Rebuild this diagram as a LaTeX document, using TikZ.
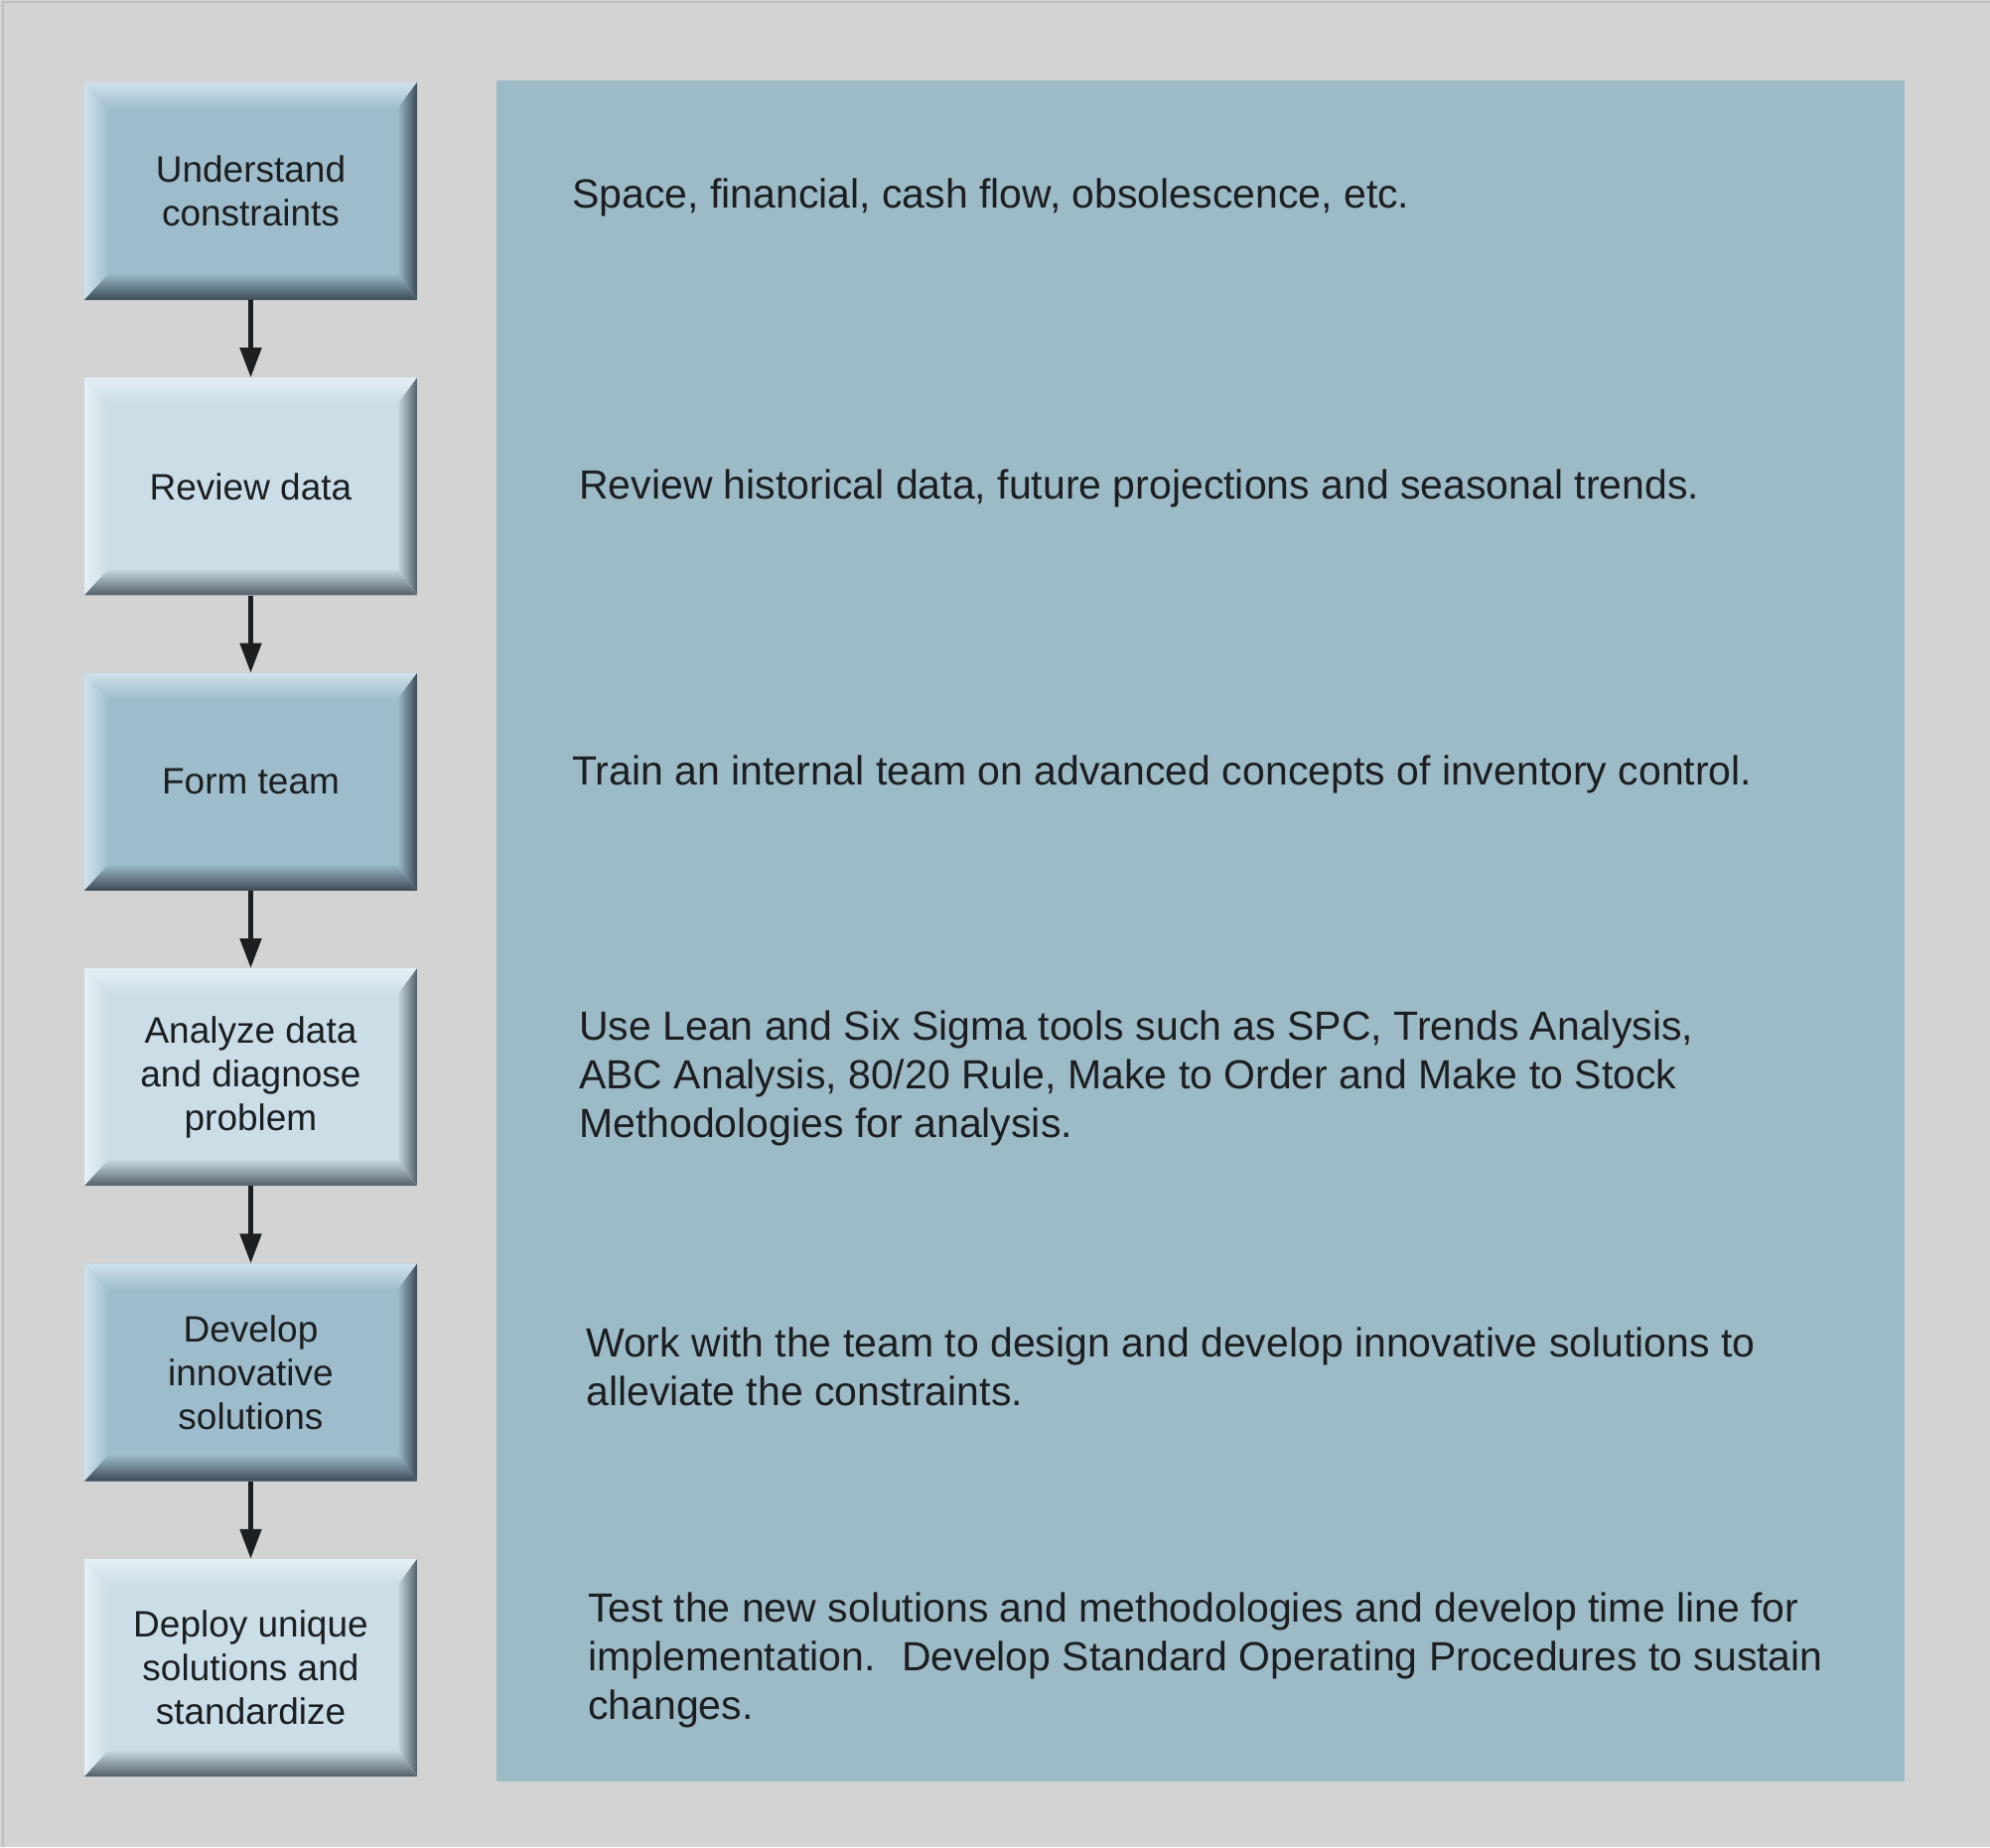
\documentclass[tikz,border=0pt]{standalone}
\usepackage{fontspec}
\setmainfont{Liberation Sans}
\usetikzlibrary{positioning,arrows.meta}
\definecolor{bggray}{HTML}{D3D3D3}
\definecolor{bgline}{HTML}{BEBEBE}
\definecolor{panelblue}{HTML}{9DBAC7}
\definecolor{darkface}{HTML}{9EBCCB}
\definecolor{darkhi}{HTML}{CFE2EC}
\definecolor{darklo}{HTML}{3B4A55}
\definecolor{lightface}{HTML}{CBDDE6}
\definecolor{lighthi}{HTML}{E6F0F5}
\definecolor{lightlo}{HTML}{525F68}
\definecolor{inkcol}{HTML}{1B1F22}
\tikzset{
  bevel/.style n args={3}{
    fill=#1,
    path picture={
      \coordinate (bnw) at (path picture bounding box.north west);
      \coordinate (bne) at (path picture bounding box.north east);
      \coordinate (bsw) at (path picture bounding box.south west);
      \coordinate (bse) at (path picture bounding box.south east);
      % light edges
      \fill[left color=#2, right color=#1] (bnw) -- ([shift={(25pt,-27pt)}]bnw) -- ([shift={(25pt,27pt)}]bsw) -- (bsw) -- cycle;
      \fill[top color=#2, bottom color=#1] (bnw) -- (bne) -- ([shift={(-20pt,-27pt)}]bne) -- ([shift={(25pt,-27pt)}]bnw) -- cycle;
      % dark edges
      \fill[left color=#1, middle color=#3!70!#1, right color=#3] (bne) -- (bse) -- ([shift={(-20pt,27pt)}]bse) -- ([shift={(-20pt,-27pt)}]bne) -- cycle;
      \fill[top color=#1, middle color=#3!80!#1, bottom color=#3] (bsw) -- (bse) -- ([shift={(-20pt,27pt)}]bse) -- ([shift={(25pt,27pt)}]bsw) -- cycle;
    }
  }
}
\tikzstyle{block} = [rectangle, bevel={darkface}{darkhi}{darklo},
    minimum width=335pt, minimum height=219pt, inner sep=0pt,
    align=center, text=inkcol, font=\fontsize{37}{44}\selectfont]
\tikzstyle{wblock} = [block, bevel={lightface}{lighthi}{lightlo}]
\tikzstyle{note} = [anchor=west, inner sep=0pt, align=left, text=inkcol,
    font=\fontsize{41}{49}\selectfont]
\tikzstyle{flow} = [draw=inkcol, line width=5pt, -{Triangle[length=30pt,width=21pt]}]

\begin{document}
\begin{tikzpicture}[x=1pt,y=-1pt,node distance=78pt]
\useasboundingbox (0,0) rectangle (2004,1860);
\fill[bggray] (0,0) rectangle (2004,1860);
\draw[bgline,line width=2pt] (2.5,1860) -- (2.5,2.5) -- (2004,2.5);

\node (panel) [rectangle, fill=panelblue, minimum width=1418pt, minimum height=1713pt] at (1209,937.5) {};

% steps
\node (understand) [block] at (252.5,192.5) {Understand\\constraints};
\node (review) [wblock, below=of understand] {Review data};
\node (form) [block, below=of review] {Form team};
\node (analyze) [wblock, below=of form] {Analyze data\\and diagnose\\problem};
\node (develop) [block, below=of analyze] {Develop\\innovative\\solutions};
\node (deploy) [wblock, below=of develop] {Deploy unique\\solutions and\\standardize};

\draw[flow] (understand) -- (review);
\draw[flow] (review) -- (form);
\draw[flow] (form) -- (analyze);
\draw[flow] (analyze) -- (develop);
\draw[flow] (develop) -- (deploy);

% descriptions
\node (understand_txt) [note] at (576,199) {Space, financial, cash flow, obsolescence, etc.};
\node (review_txt) [note] at (583,492) {Review historical data, future projections and seasonal trends.};
\node (form_txt) [note] at (576,780) {Train an internal team on advanced concepts of inventory control.};
\node (analyze_txt) [note] at (583,1086) {Use Lean and Six Sigma tools such as SPC, Trends Analysis,\\ABC Analysis, 80/20 Rule, Make to Order and Make to Stock\\Methodologies for analysis.};
\node (develop_txt) [note] at (590,1376) {Work with the team to design and develop innovative solutions to\\alleviate the constraints.};
\node (deploy_txt) [note] at (592,1672) {Test the new solutions and methodologies and develop time line for\\implementation.~ Develop Standard Operating Procedures to sustain\\changes.};
\end{tikzpicture}
\end{document}
